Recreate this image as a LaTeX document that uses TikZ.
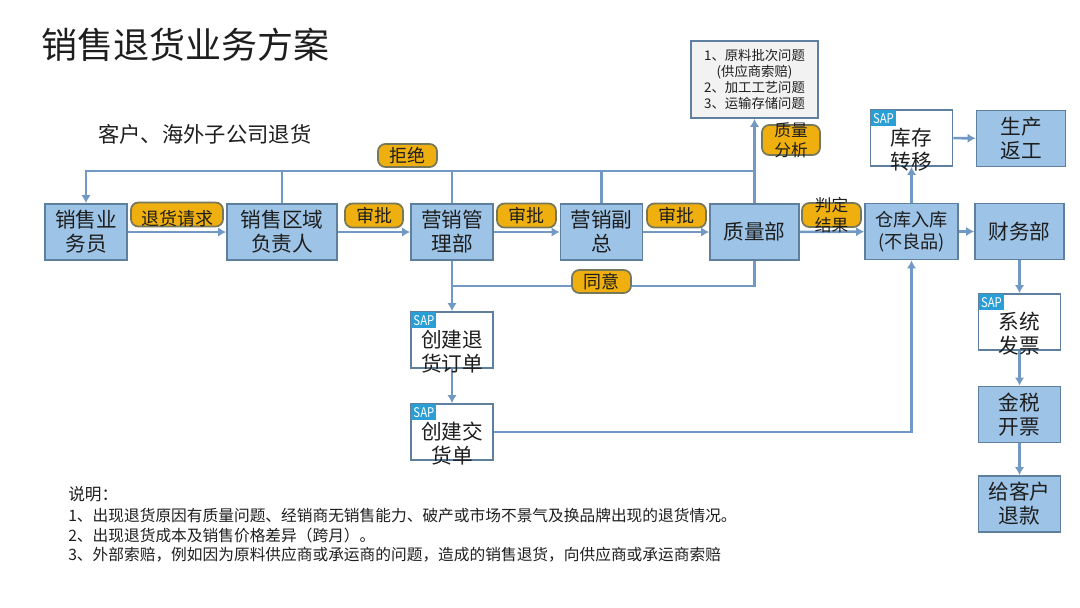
\documentclass[tikz,border=0pt]{standalone}
\usepackage{fontspec}
\setmainfont{Noto Sans CJK SC}
\usetikzlibrary{arrows.meta,backgrounds}
\definecolor{boxblue}{HTML}{9DC3E6}
\definecolor{boxline}{HTML}{5F7F9F}
\definecolor{flowline}{HTML}{7299C4}
\definecolor{pillfill}{HTML}{EFB00F}
\definecolor{pillline}{HTML}{77775A}
\definecolor{saptag}{HTML}{2A9FD6}
\definecolor{inkdark}{HTML}{1E1E1E}
\def\px{.75pt}

\begin{document}
\begin{tikzpicture}[
  x=.75pt,y=-.75pt,
  text=inkdark,
  blk/.style={draw=boxline,line width=1.3pt,fill=boxblue,inner sep=0pt,
              minimum width=#1*\px,minimum height=56*\px,align=center,
              font=\fontsize{15.5}{18}\selectfont},
  sapblk/.style={blk=82,fill=white},
  saptxt/.style={font=\fontsize{15.5}{18}\selectfont,align=center,inner sep=0pt,yshift=-8.5pt},
  sapmark/.style={fill=saptag,text=white,inner sep=0pt,minimum width=25*\px,minimum height=16*\px,
                  anchor=north west,font=\fontsize{10}{10}\selectfont},
  pill/.style={draw=pillline,line width=1.3pt,fill=pillfill,rounded corners=5.5pt,inner sep=0pt,
               minimum width=#1*\px,minimum height=24*\px},
  pilltxt/.style={font=\fontsize{13.5}{15}\selectfont,align=center,inner sep=0pt},
  arr/.style={-{Latex[length=6pt,width=7pt]},line width=1.9pt,flowline},
  lin/.style={line width=1.9pt,flowline}
]
\path[use as bounding box] (0,0) rectangle (1080,607);

% title and notes
\node[anchor=west,inner sep=0pt,font=\fontsize{27}{30}\selectfont] (title) at (41,45) {销售退货业务方案};
\node[anchor=west,inner sep=0pt,font=\fontsize{16}{18}\selectfont] (scope) at (98,134) {客户、海外子公司退货};
\node[anchor=north west,inner sep=0pt,align=left,font=\fontsize{11.78}{14.6}\selectfont] (remark) at (68,486) {%
  {\fontsize{12.5}{15}\selectfont 说明：}\\[1.6pt]
  1、出现退货原因有质量问题、经销商无销售能力、破产或市场不景气及换品牌出现的退货情况。\\
  2、出现退货成本及销售价格差异（跨月）。\\
  3、外部索赔，例如因为原料供应商或承运商的问题，造成的销售退货，向供应商或承运商索赔};

% main row
\node[blk=82] (sales) at (86,232) {销售业\\务员};
\node[blk=110] (region) at (282,232) {销售区域\\负责人};
\node[blk=82] (mkt) at (452,232) {营销管\\理部};
\node[blk=82] (vp) at (601.5,232) {营销副\\总};
\node[blk=89] (qa) at (754.5,232) {质量部};
\node[blk=93,font=\fontsize{13.6}{17}\selectfont] (store) at (911.5,231.5) {仓库入库\\(不良品)};
\node[blk=89] (fin) at (1019.5,231.5) {财务部};

% upper row
\node[draw=boxline,line width=1.3pt,fill=black!5,inner sep=0pt,minimum width=127*\px,minimum height=77*\px,
      align=center,font=\fontsize{10}{12}\selectfont] (cause) at (754.5,79.5)
      {1、原料批次问题\\(供应商索赔)\\2、加工工艺问题\\3、运输存储问题};
\node[sapblk,label={[saptxt]center:库存\\转移}] (move) at (911.5,138) {};
\node[blk=89] (rework) at (1021,138.5) {生产\\返工};

% sap column and right column
\node[sapblk,label={[saptxt]center:创建退\\货订单}] (order) at (452,340) {};
\node[sapblk,label={[saptxt]center:创建交\\货单}] (deliv) at (452,432) {};
\node[sapblk,label={[saptxt]center:系统\\发票}] (inv) at (1019.5,322) {};
\node[blk=82] (tax) at (1019.5,414.5) {金税\\开票};
\node[blk=82] (refund) at (1019.5,504) {给客户\\退款};

\foreach \n in {move,order,deliv,inv}
  \node[sapmark] (\n tag) at ([shift={(1,1)}]\n.north west) {\scalebox{.85}[1]{SAP}};

% tags on the flow
\node[pill=92,label={[pilltxt,yshift=-3pt]center:退货请求}] (reqtag) at (177,214.5) {};
\node[pill=58,label={[pilltxt]center:审批}] (ok1) at (374,215.5) {};
\node[pill=59,label={[pilltxt]center:审批}] (ok2) at (526.5,215.5) {};
\node[pill=59,label={[pilltxt]center:审批}] (ok3) at (676.5,215.5) {};
\node[pill=59,label={[pilltxt,font=\fontsize{12.5}{15}\selectfont]center:判定\\结果}] (judge) at (831.5,215) {};
\node[pill=58,minimum height=30*\px,label={[pilltxt,font=\fontsize{12.5}{15}\selectfont]center:质量\\分析}] (ana) at (791,140) {};
\node[pill=59,minimum height=23*\px,label={[pilltxt]center:拒绝}] (rej) at (407.5,155.5) {};
\node[pill=59,minimum height=23*\px,label={[pilltxt]center:同意}] (agree) at (601.5,281.5) {};

\coordinate (topl) at (86,171);
\coordinate (topr) at (754.5,171);
\coordinate (agl) at (452,286);
\coordinate (agr) at (754.5,286);
\coordinate (dvr) at (911.5,432);

\begin{scope}[on background layer]
  \draw[arr] (sales) -- (region);
  \draw[arr] (region) -- (mkt);
  \draw[arr] (mkt) -- (vp);
  \draw[arr] (vp) -- (qa);
  \draw[arr] (qa) -- (store);
  \draw[arr] (store) -- (fin);
  \draw[arr] (qa) -- (cause);
  \draw[arr] (store) -- (move);
  \draw[arr] (move) -- (rework);
  \draw[arr] (topr) -- (topl) -- (sales);
  \draw[lin] (region.north) -- (region.north |- topl);
  \draw[lin] (mkt.north) -- (mkt.north |- topl);
  \draw[lin] (vp.north) -- (vp.north |- topl);
  \draw[lin] (qa.south) -- (agr) -- (agl);
  \draw[arr] (mkt) -- (order);
  \draw[arr] (order) -- (deliv);
  \draw[arr] (deliv) -- (dvr) -- (store);
  \draw[arr] (fin) -- (inv);
  \draw[arr] (inv) -- (tax);
  \draw[arr] (tax) -- (refund);
\end{scope}
\end{tikzpicture}
\end{document}
